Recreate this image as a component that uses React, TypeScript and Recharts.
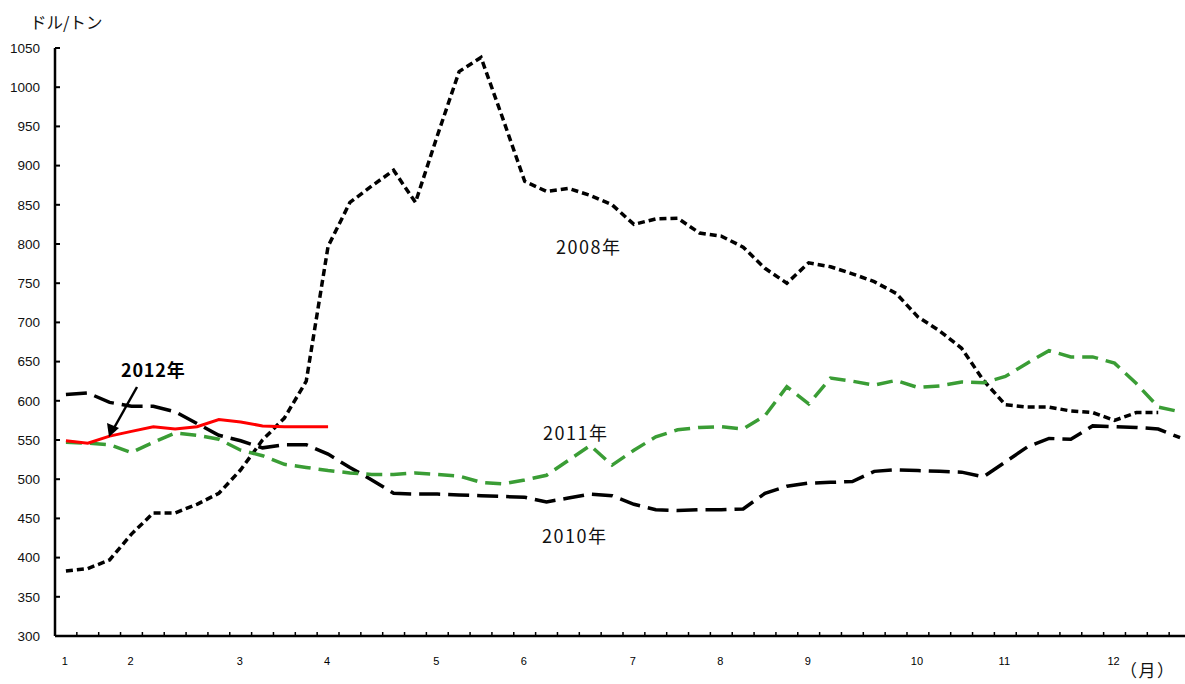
import { LineChart, Line, XAxis, YAxis } from 'recharts'

// weekly prices, USD per ton (52 weeks, Jan -> Dec)
const weeks = Array.from({ length: 52 }, (_, i) => `w${i + 1}`)

const y2008 = [
  383, 386, 397, 430, 457, 457, 468, 482, 512, 550, 578, 625, 797, 853, 874, 894, 853, 938,
  1020, 1038, 960, 880, 867, 871, 862, 850, 825, 832, 833, 814, 810, 796, 769, 750, 776, 771,
  762, 752, 737, 707, 689, 667, 626, 595, 592, 592, 587, 585, 575, 585, 585, null,
]
const y2010 = [
  608, 610, 598, 593, 593, 586, 571, 556, 549, 540, 544, 544, 532, 515, 499, 482, 481, 481,
  480, 479, 478, 477, 471, 476, 481, 479, 468, 461, 460, 461, 461, 462, 482, 491, 495, 496,
  497, 510, 512, 511, 510, 509, 503, 522, 541, 552, 551, 568, 567, 566, 564, 553,
]
const y2011 = [
  547, 546, 544, 534, 547, 559, 556, 551, 537, 530, 519, 515, 511, 508, 506, 506, 508, 506,
  504, 496, 494, 499, 505, 524, 543, 518, 537, 554, 563, 566, 567, 564, 581, 618, 596, 629,
  625, 620, 626, 617, 619, 624, 623, 631, 648, 664, 656, 656, 648, 622, 592, 586,
]
const y2012 = [549, 546, 555, 561, 567, 564, 567, 576, 573, 568, 567, 567, 567]

// first week of each month -> month label
const monthStart = [0, 3, 8, 12, 17, 21, 26, 30, 34, 39, 43, 48]
const monthNames = ['1', '2', '3', '4', '5', '6', '7', '8', '9', '10', '11', '12']

const yTicks = [300, 350, 400, 450, 500, 550, 600, 650, 700, 750, 800, 850, 900, 950, 1000, 1050]

const data = weeks.map((w, i) => ({
  week: w,
  y2008: y2008[i] ?? null,
  y2010: y2010[i] ?? null,
  y2011: y2011[i] ?? null,
  y2012: y2012[i] ?? null,
}))

const W = 1200
const H = 684
const AXIS_W = 55
const M = { top: 48, right: 9, left: 0, bottom: 18 }
const BAND = (W - AXIS_W - M.left - M.right) / weeks.length

const numFont = '"Liberation Sans", Arial, sans-serif'
const jpFont = '"Noto Sans CJK JP", "Noto Sans", sans-serif'

function XTick(props: any) {
  const { x, y, index } = props
  const m = monthStart.indexOf(index)
  return (
    <g>
      <line x1={x - BAND / 2} x2={x - BAND / 2} y1={y} y2={y - 4} stroke="#000" strokeWidth={1.5} />
      {m >= 0 && (
        <text x={x - 1} y={y + 29} textAnchor="middle" fontSize={11} fontFamily={numFont} fill="#000">
          {monthNames[m]}
        </text>
      )}
    </g>
  )
}

function YTick(props: any) {
  const { x, y, payload } = props
  return (
    <g>
      <line x1={x} x2={x + 5} y1={y} y2={y} stroke="#000" strokeWidth={2} />
      <text x={x - 15} y={y} dy="0.36em" textAnchor="end" fontSize={13.5} fontFamily={numFont} fill="#111">
        {payload.value}
      </text>
    </g>
  )
}

const yearLabel = { fontSize: 18, fontFamily: jpFont, fill: '#111', letterSpacing: 1.5 }

export default function App() {
  return (
    <div style={{ position: 'absolute', left: 0, top: 0, width: 1185, height: 684, overflow: 'hidden', background: '#fff' }}>
      <LineChart width={W} height={H} data={data} margin={M}>
        <XAxis
          dataKey="week"
          interval={0}
          padding={{ left: BAND / 2, right: BAND / 2 }}
          tickSize={0}
          tickMargin={0}
          height={30}
          axisLine={{ stroke: '#000', strokeWidth: 2.5 }}
          tickLine={false}
          tick={<XTick />}
        />
        <YAxis
          type="number"
          domain={[300, 1050]}
          ticks={yTicks}
          interval={0}
          width={AXIS_W}
          tickSize={0}
          tickMargin={0}
          axisLine={{ stroke: '#000', strokeWidth: 2.5 }}
          tickLine={false}
          tick={<YTick />}
        />
        <Line dataKey="y2008" stroke="#000" strokeWidth={3.5} strokeDasharray="7 4" dot={false} isAnimationActive={false} />
        <Line dataKey="y2010" stroke="#000" strokeWidth={3.5} strokeDasharray="21 8" dot={false} isAnimationActive={false} />
        <Line dataKey="y2011" stroke="#3a9d35" strokeWidth={3.5} strokeDasharray="16 8" dot={false} isAnimationActive={false} />
        <Line dataKey="y2012" stroke="#ff0000" strokeWidth={3} dot={false} isAnimationActive={false} />
      </LineChart>

      <svg width={1185} height={684} style={{ position: 'absolute', left: 0, top: 0, pointerEvents: 'none' }}>
        <text x={30} y={29} fontSize={16.5} fontFamily={jpFont} fill="#111">ドル/トン</text>
        <text x={556} y={254} {...yearLabel}>2008年</text>
        <text x={543} y={440} {...yearLabel}>2011年</text>
        <text x={542} y={543} {...yearLabel}>2010年</text>
        <text x={121} y={377} fontSize={18} fontWeight="bold" fontFamily={jpFont} fill="#000" letterSpacing={0.8}>2012年</text>
        <text x={1120} y={677} fontSize={17} fontFamily={jpFont} fill="#111" letterSpacing={1.5}>（月）</text>
        <line x1={137} y1={387} x2={114} y2={428} stroke="#000" strokeWidth={2.5} />
        <polygon points="109,437 107,423 119,428" fill="#000" />
      </svg>
    </div>
  )
}
